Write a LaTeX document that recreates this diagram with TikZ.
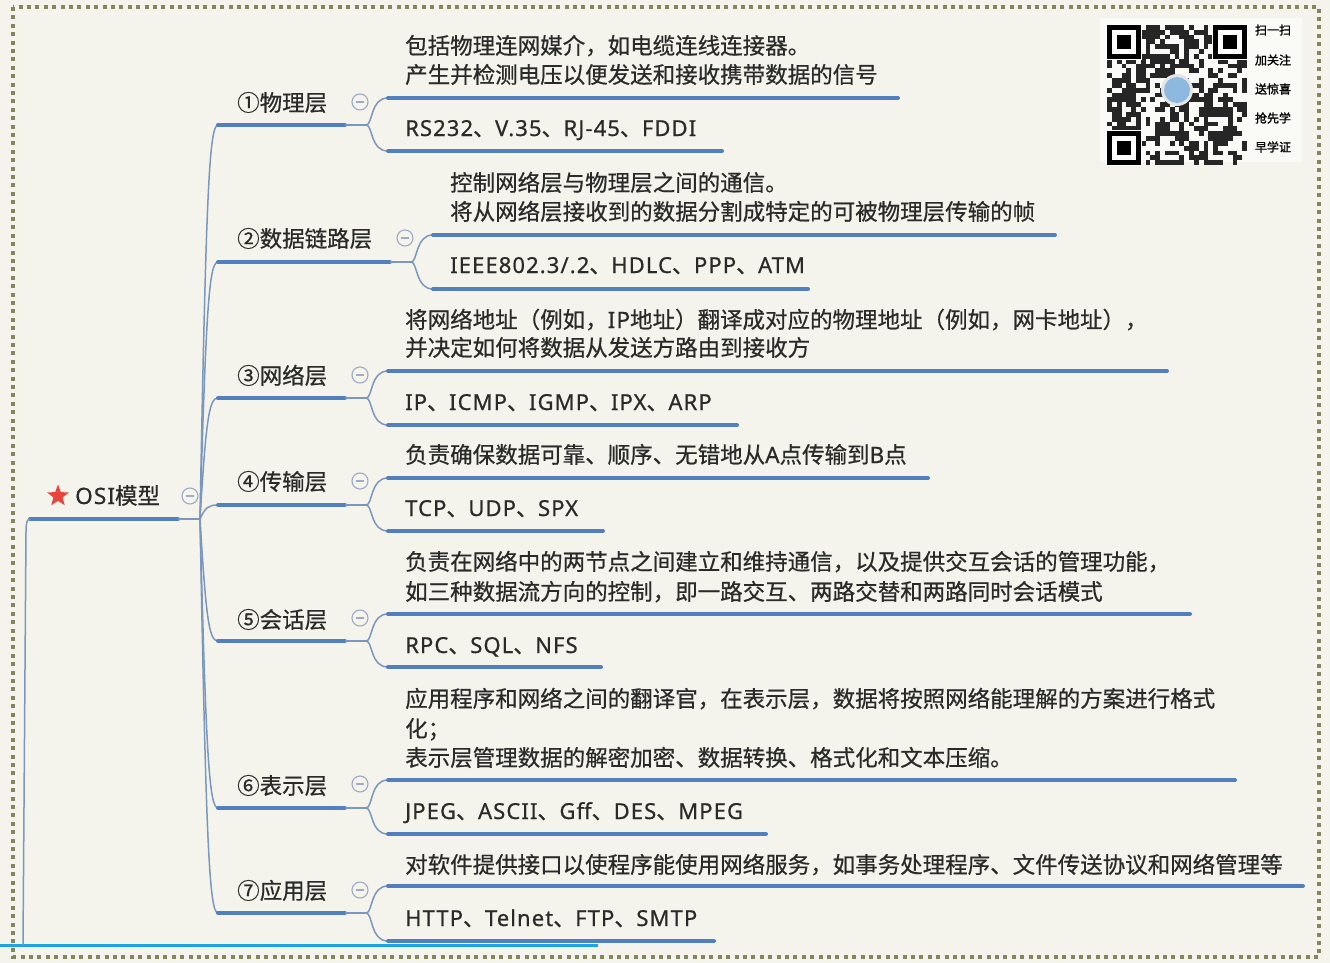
\documentclass[tikz,border=0pt]{standalone}
\usepackage{fontspec}
\setmainfont{Noto Sans CJK SC}[FakeBold=0.6]
\newfontfamily\latf{Noto Sans}[FakeBold=0.6, LetterSpace=5]
\newfontfamily\qrf{Noto Sans CJK SC}[FakeBold=1.5]
\newcommand{\lat}[1]{{\latf #1}}
\usetikzlibrary{shapes.geometric}
\definecolor{bg}{HTML}{F4F4EC}
\definecolor{txtc}{HTML}{2A2A2A}
\definecolor{ulc}{HTML}{5280BF}
\definecolor{cnc}{HTML}{7C97BE}
\definecolor{tgc}{HTML}{9EABC6}
\definecolor{bdc}{HTML}{86865E}
\definecolor{starc}{HTML}{E8453C}
\definecolor{cyanc}{HTML}{1EA3E3}
\definecolor{qrb}{HTML}{8DB8E0}
\begin{document}
\begin{tikzpicture}[x=1pt,y=-1pt,
  txt/.style={anchor=base west, inner sep=0pt, font=\fontsize{22.5}{26}\selectfont, text=txtc},
  ptxt/.style={txt, font=\fontsize{22}{26}\selectfont},
  under/.style={line width=4pt, draw=ulc, line cap=round},
  conn/.style={line width=1.5pt, draw=cnc},
  tog/.style={circle, draw=tgc, line width=1.1pt, minimum size=16pt, inner sep=0pt},
  minus/.style={draw=tgc, line width=1.1pt},
  bdr/.style={draw=bdc, line width=4pt, dash pattern=on 4pt off 4.4pt}]
\useasboundingbox (0,0) rectangle (1330,963);
\fill[bg] (0,0) rectangle (1330,963);
\draw[bdr] (13,7) rectangle (1319,957);
\draw[line width=3pt, cyanc] (0,945) -- (598,945);

% ---------- QR code ----------
\fill[white!55!bg] (1100,18) rectangle (1302,162);
\pgfmathsetseed{12}
\foreach \i in {0,...,28}{\foreach \j in {0,...,28}{
  \pgfmathrandominteger{\qrv}{0}{99}
  \ifnum\qrv<55 \fill[black!85] (1107+\i*4.83, 25+\j*4.83) rectangle ++(4.83,4.83); \fi
}}
\foreach \fx/\fy in {1107/25, 1213.3/25, 1107/131.3}{
  \fill[white] (\fx-1,\fy-1) rectangle ++(35.8,35.8);
  \fill[black] (\fx,\fy) rectangle ++(33.8,33.8);
  \fill[white] (\fx+4.83,\fy+4.83) rectangle ++(24.15,24.15);
  \fill[black] (\fx+9.66,\fy+9.66) rectangle ++(14.5,14.5);
}
\fill[white!80!gray] (1177,90) circle (16);
\fill[qrb] (1177,90) circle (13);
\foreach \t/\yy [count=\k] in {扫一扫/30, 加关注/60, 送惊喜/89, 抢先学/118, 早学证/147}{
  \node[inner sep=0pt, font=\fontsize{12}{13}\selectfont\qrf, text=black] (qr\k) at (1273,\yy) {\t};
}

% ---------- root ----------
\node[star, star points=5, star point ratio=2.4, fill=starc, inner sep=0pt, minimum size=23pt] (star) at (58,496) {};
\node[txt] (root) at (75,504) {\lat{OSI}模型};
\node[tog] (t0) at (190,496) {};
\draw[minus] (t0.center) ++(-4,0) -- ++(8,0);
\coordinate (Rs) at (30,519);
\coordinate (Re) at (178,519);
\coordinate (J) at (200,519);
\coordinate (Rb) at (23,945);
\draw[under] (Rs) -- (Re);
\draw[conn] (Re) -- (J);
\draw[conn] (Rs) .. controls (27,519) and (26,523) .. (26,532) -- (Rb);

% ---------- layer nodes ----------
% layer 1
\node[txt] (l1) at (237,111) {①物理层};
\node[tog] (t1) at (360,102) {};
\draw[minus] (t1.center) ++(-4,0) -- ++(8,0);
\coordinate (L1s) at (218,125); \coordinate (L1e) at (345,125); \coordinate (F1) at (366,125);
\coordinate (D1s) at (388,98); \coordinate (D1e) at (898,98);
\coordinate (P1s) at (388,151); \coordinate (P1e) at (722,151);
\node[txt] (d1a) at (405,54) {包括物理连网媒介，如电缆连线连接器。};
\node[txt] (d1b) at (405,83) {产生并检测电压以便发送和接收携带数据的信号};
\node[ptxt] (p1) at (405,136) {\lat{RS232}、\lat{V.35}、\lat{RJ-45}、\lat{FDDI}};

% layer 2
\node[txt] (l2) at (237,247) {②数据链路层};
\node[tog] (t2) at (405,238) {};
\draw[minus] (t2.center) ++(-4,0) -- ++(8,0);
\coordinate (L2s) at (218,262); \coordinate (L2e) at (390,262); \coordinate (F2) at (411,262);
\coordinate (D2s) at (433,235); \coordinate (D2e) at (1055,235);
\coordinate (P2s) at (433,289); \coordinate (P2e) at (808,289);
\node[txt] (d2a) at (450,191) {控制网络层与物理层之间的通信。};
\node[txt] (d2b) at (450,220) {将从网络层接收到的数据分割成特定的可被物理层传输的帧};
\node[ptxt] (p2) at (450,273) {\lat{IEEE802.3/.2}、\lat{HDLC}、\lat{PPP}、\lat{ATM}};

% layer 3
\node[txt] (l3) at (237,384) {③网络层};
\node[tog] (t3) at (360,375) {};
\draw[minus] (t3.center) ++(-4,0) -- ++(8,0);
\coordinate (L3s) at (218,398); \coordinate (L3e) at (345,398); \coordinate (F3) at (366,398);
\coordinate (D3s) at (388,371); \coordinate (D3e) at (1167,371);
\coordinate (P3s) at (388,425); \coordinate (P3e) at (737,425);
\node[txt] (d3a) at (405,328) {将网络地址（例如，\lat{IP}地址）翻译成对应的物理地址（例如，网卡地址），};
\node[txt] (d3b) at (405,356) {并决定如何将数据从发送方路由到接收方};
\node[ptxt] (p3) at (405,410) {\lat{IP}、\lat{ICMP}、\lat{IGMP}、\lat{IPX}、\lat{ARP}};

% layer 4
\node[txt] (l4) at (237,490) {④传输层};
\node[tog] (t4) at (360,481) {};
\draw[minus] (t4.center) ++(-4,0) -- ++(8,0);
\coordinate (L4s) at (218,505); \coordinate (L4e) at (345,505); \coordinate (F4) at (366,505);
\coordinate (D4s) at (388,478); \coordinate (D4e) at (928,478);
\coordinate (P4s) at (388,531); \coordinate (P4e) at (603,531);
\node[txt] (d4a) at (405,463) {负责确保数据可靠、顺序、无错地从\lat{A}点传输到\lat{B}点};
\node[ptxt] (p4) at (405,516) {\lat{TCP}、\lat{UDP}、\lat{SPX}};

% layer 5
\node[txt] (l5) at (237,628) {⑤会话层};
\node[tog] (t5) at (360,618) {};
\draw[minus] (t5.center) ++(-4,0) -- ++(8,0);
\coordinate (L5s) at (218,641); \coordinate (L5e) at (345,641); \coordinate (F5) at (366,641);
\coordinate (D5s) at (388,614); \coordinate (D5e) at (1190,614);
\coordinate (P5s) at (388,667); \coordinate (P5e) at (601,667);
\node[txt] (d5a) at (405,570) {负责在网络中的两节点之间建立和维持通信，以及提供交互会话的管理功能，};
\node[txt] (d5b) at (405,600) {如三种数据流方向的控制，即一路交互、两路交替和两路同时会话模式};
\node[ptxt] (p5) at (405,653) {\lat{RPC}、\lat{SQL}、\lat{NFS}};

% layer 6
\node[txt] (l6) at (237,794) {⑥表示层};
\node[tog] (t6) at (360,784) {};
\draw[minus] (t6.center) ++(-4,0) -- ++(8,0);
\coordinate (L6s) at (218,808); \coordinate (L6e) at (345,808); \coordinate (F6) at (366,808);
\coordinate (D6s) at (388,780); \coordinate (D6e) at (1235,780);
\coordinate (P6s) at (388,834); \coordinate (P6e) at (766,834);
\node[txt] (d6a) at (405,707) {应用程序和网络之间的翻译官，在表示层，数据将按照网络能理解的方案进行格式};
\node[txt] (d6b) at (405,737) {化；};
\node[txt] (d6c) at (405,766) {表示层管理数据的解密加密、数据转换、格式化和文本压缩。};
\node[ptxt] (p6) at (405,819) {\lat{JPEG}、\lat{ASCII}、\lat{Gff}、\lat{DES}、\lat{MPEG}};

% layer 7
\node[txt] (l7) at (237,899) {⑦应用层};
\node[tog] (t7) at (360,890) {};
\draw[minus] (t7.center) ++(-4,0) -- ++(8,0);
\coordinate (L7s) at (218,913); \coordinate (L7e) at (345,913); \coordinate (F7) at (366,913);
\coordinate (D7s) at (388,886); \coordinate (D7e) at (1303,886);
\coordinate (P7s) at (388,941); \coordinate (P7e) at (714,941);
\node[txt] (d7a) at (405,873) {对软件提供接口以使程序能使用网络服务，如事务处理程序、文件传送协议和网络管理等};
\node[ptxt] (p7) at (405,926) {\lat{HTTP}、\lat{Telnet}、\lat{FTP}、\lat{SMTP}};

% ---------- trunk connectors ----------
\draw[conn] (J) .. controls (206,200) and (209,125) .. (L1s);
\draw[conn] (J) .. controls (206,310) and (209,262) .. (L2s);
\draw[conn] (J) .. controls (206,420) and (209,398) .. (L3s);
\draw[conn] (J) .. controls (205,508) and (208,505) .. (L4s);
\draw[conn] (J) .. controls (206,618) and (209,641) .. (L5s);
\draw[conn] (J) .. controls (206,752) and (209,808) .. (L6s);
\draw[conn] (J) .. controls (206,836) and (209,913) .. (L7s);

% ---------- layer underlines and child forks ----------
\foreach \n in {1,...,7}{
  \draw[under] (L\n s) -- (L\n e);
  \draw[conn] (L\n e) -- (F\n);
  \draw[conn] (F\n) .. controls ([xshift=7pt]F\n) and ([xshift=-18pt]D\n s) .. (D\n s);
  \draw[conn] (F\n) .. controls ([xshift=7pt]F\n) and ([xshift=-18pt]P\n s) .. (P\n s);
  \draw[under] (D\n s) -- (D\n e);
  \draw[under] (P\n s) -- (P\n e);
}
\end{tikzpicture}
\end{document}
